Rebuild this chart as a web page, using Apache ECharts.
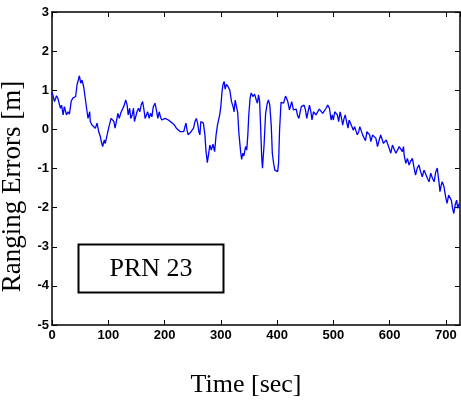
<!DOCTYPE html>
<html>
<head>
<meta charset="utf-8">
<script src="https://cdn.jsdelivr.net/npm/echarts@6/dist/echarts.min.js"></script>
<style>
html,body{margin:0;padding:0;background:#fff;}
#chart{width:461px;height:400px;}
</style>
</head>
<body>
<div id="chart"></div>
<script>
var timeSec = [0,2,4.4,8,10.3,15,17,19.8,22,25.7,28.6,31,34,36.9,39.8,42,44.5,48.7,51,53.4,56.3,58,62.3,64,67,68,71,74,77,80,83,86,87.6,90,93,94.7,
97.7,100.6,103,105,108,110,112,115,117,119.5,122,124,126,128.5,131,133.5,135.4,138,140,142.5,144.8,146.5,149,151,153.7,156,158.4,161,163,165.5,168,170,172.6,175,177.5,180,183,185.5,188,190.5,192.7,195,198,201,204,206.7,210,213.8,217.5,221,224.5,228,231.5,234,236.3,238,240,242,244.6,247,249,251.5,254,256.5,258.7,261,262.8,264.5,267,269,271.7,
273.5,276,278,280.5,283,286,289,291.5,294,296,298,300,302,304,306,307.6,310,313,316,319,321.8,323.6,325.5,328,330,332,335,337,339,341,344,346,348,349.6,352,354,357,360,363,365,367,369,370.8,372.6,374,375.6,377,379.6,382.6,384.6,387,389.7,391.5,393.8,396,398.4,401,402.6,404.4,407,409,411.5,415,417,419,422,424.4,426,429,431,434,436,438.6,441,443,446,448,450.4,452.7,455,457.5,460,462,464.6,467,469,472,475,478,481,484,487,490,493,496,498,500,502.4,504.7,507,509.4,512,514,516.5,519,521,523.5,526,528,531,533,535.4,537.7,540,542.5,545,547,549.6,552,555,557,559.6,562,564.4,566.7,569.6,572.6,575.6,578.4,581.4,584,587,589,591.5,594,596,599,602,605,608,611,614,617,620,622.6,624.6,625.7,628.7,631.5,634.5,637,640.4,643,646,649,652,655,658,661,664,667,670,673,676,679,682,684.6,687.6,689.4,691.7,693.4,696.5,699.4,702,704.8,707,709.6,711.8,714,716.4,719,721,723.5];
var rangingError = [0.95,0.85,0.71,0.86,0.80,0.54,0.62,0.37,0.58,0.37,0.45,0.39,0.71,0.80,0.84,0.84,1.14,1.37,1.18,1.26,1.09,1.05,0.45,0.28,0.45,0.20,0.11,0.16,0.03,0.16,-0.06,-0.19,-0.31,-0.44,-0.27,-0.36,
-0.31,0.03,0.07,0.28,0.32,0.20,0.03,0.24,0.41,0.28,0.41,0.37,0.54,0.62,0.75,0.62,0.37,0.54,0.28,0.37,0.54,0.20,0.16,0.45,0.54,0.45,0.62,0.71,0.54,0.28,0.32,0.45,0.28,0.41,0.32,0.58,0.67,0.50,0.28,0.45,0.32,0.24,0.20,0.28,0.24,0.24,0.21,0.16,0.11,0.03,0.05,-0.06,-0.10,-0.06,0.07,0.16,-0.02,-0.14,-0.19,-0.06,-0.10,0.03,0.20,0.28,0.16,-0.06,-0.14,0.20,0.24,0.16,-0.14,
-0.53,-0.85,-0.66,-0.40,-0.53,-0.38,-0.57,-0.15,0.11,0.15,0.37,0.58,0.95,1.16,1.22,1.03,1.15,1.09,1.00,0.71,0.58,0.45,0.75,0.72,0.43,-0.08,-0.55,-0.77,-0.61,-0.68,-0.44,-0.53,-0.14,0.35,0.80,0.93,0.84,0.90,0.75,0.67,0.88,0.71,0.03,-0.70,-0.99,-0.95,-0.36,0.41,0.67,0.75,0.62,0.07,-0.61,-0.87,-1.04,-1.06,-1.08,-0.87,-0.01,0.69,0.73,0.67,0.85,0.79,0.71,0.50,0.62,0.71,0.50,0.55,0.52,0.37,0.28,0.45,0.58,0.54,0.62,0.50,0.28,0.45,0.62,0.45,0.24,0.45,0.50,0.37,0.32,0.52,0.50,0.41,0.45,0.54,0.62,0.54,0.24,0.37,0.24,0.45,0.41,0.37,0.20,0.45,0.32,0.11,0.28,0.37,0.20,0.03,0.24,0.28,0.07,-0.02,0.07,0.03,-0.14,-0.06,0.07,0.03,-0.14,-0.19,-0.29,-0.06,-0.02,-0.14,-0.31,-0.14,-0.10,-0.23,-0.44,-0.27,-0.14,-0.27,-0.36,-0.40,-0.27,-0.31,-0.48,-0.61,-0.40,-0.44,-0.61,-0.53,-0.44,-0.44,-0.57,-0.44,-0.65,-0.87,-0.74,-0.91,-0.82,-0.74,-0.95,-1.17,-0.99,-0.91,-1.08,-1.21,-1.04,-0.99,-1.25,-1.34,-1.12,-1.25,-1.34,-1.08,-0.99,-1.34,-1.59,-1.42,-1.34,-1.46,-1.72,-1.89,-1.68,-1.63,-1.81,-2.02,-2.15,-1.93,-1.81,-2.02,-1.89];
var xTicks = [0,100,200,300,400,500,600,700];
var yTicks = [-5,-4,-3,-2,-1,0,1,2,3];
var xMax = 725;
var annotationText = 'PRN 23';
var xTitle = 'Time [sec]';
var yTitle = 'Ranging Errors [m]';

var seriesData = timeSec.map(function (t, i) { return [t, rangingError[i]]; });

var chart = echarts.init(document.getElementById('chart'), null, {renderer: 'canvas'});
var lineStyle = {color: '#000', width: 1.5};
var labelFont = {fontFamily: '"Liberation Sans", Arial, sans-serif', fontWeight: 'bold', fontSize: 13, color: '#000'};
var baseX = {
  type: 'value', min: xTicks[0], max: xMax, interval: 100,
  axisLine: {show: true, onZero: false, lineStyle: lineStyle},
  axisTick: {show: true, inside: true, length: 5, lineStyle: {color: '#000', width: 1}},
  splitLine: {show: false}
};
var baseY = {
  type: 'value', min: yTicks[0], max: yTicks[yTicks.length - 1], interval: 1,
  axisLine: {show: true, onZero: false, lineStyle: lineStyle},
  axisTick: {show: true, inside: true, length: 5, lineStyle: {color: '#000', width: 1}},
  splitLine: {show: false}
};
var option = {
  animation: false,
  backgroundColor: '#fff',
  grid: {left: 52, top: 12, right: 1, bottom: 75, containLabel: false, outerBoundsMode: 'none'},
  xAxis: [
    Object.assign({}, baseX, {
      position: 'bottom',
      name: xTitle, nameLocation: 'middle', nameGap: 47,
      nameTextStyle: {fontFamily: '"Liberation Serif", "Times New Roman", serif', fontSize: 26, color: '#000', padding: [0, 20, 0, 0]},
      axisLabel: Object.assign({margin: 4, showMaxLabel: false, hideOverlap: false,
        formatter: function (v) { return xTicks.indexOf(v) >= 0 ? String(v) : ''; }}, labelFont)
    }),
    Object.assign({}, baseX, {position: 'top', axisLabel: {show: false}})
  ],
  yAxis: [
    Object.assign({}, baseY, {
      position: 'left',
      name: yTitle, nameLocation: 'middle', nameGap: 16,
      nameTextStyle: {fontFamily: '"Liberation Serif", "Times New Roman", serif', fontSize: 27, color: '#000', padding: [0, 36, 0, 0]},
      axisLabel: Object.assign({margin: 3, hideOverlap: false}, labelFont)
    }),
    Object.assign({}, baseY, {position: 'right', axisLabel: {show: false}})
  ],
  graphic: [
    {type: 'rect', shape: {x: 78.5, y: 244.5, width: 145, height: 48}, style: {fill: '#fff', stroke: '#000', lineWidth: 2}, z: 100},
    {type: 'text', x: 151, y: 269, style: {text: annotationText, font: '26px "Liberation Serif", "Times New Roman", serif', fill: '#000', textAlign: 'center', textVerticalAlign: 'middle'}, z: 101}
  ],
  series: [{
    type: 'line', xAxisIndex: 0, yAxisIndex: 0,
    data: seriesData, showSymbol: false, symbol: 'none',
    lineStyle: {color: '#0000ff', width: 1.3},
    clip: true
  }]
};
chart.setOption(option);
</script>
</body>
</html>
